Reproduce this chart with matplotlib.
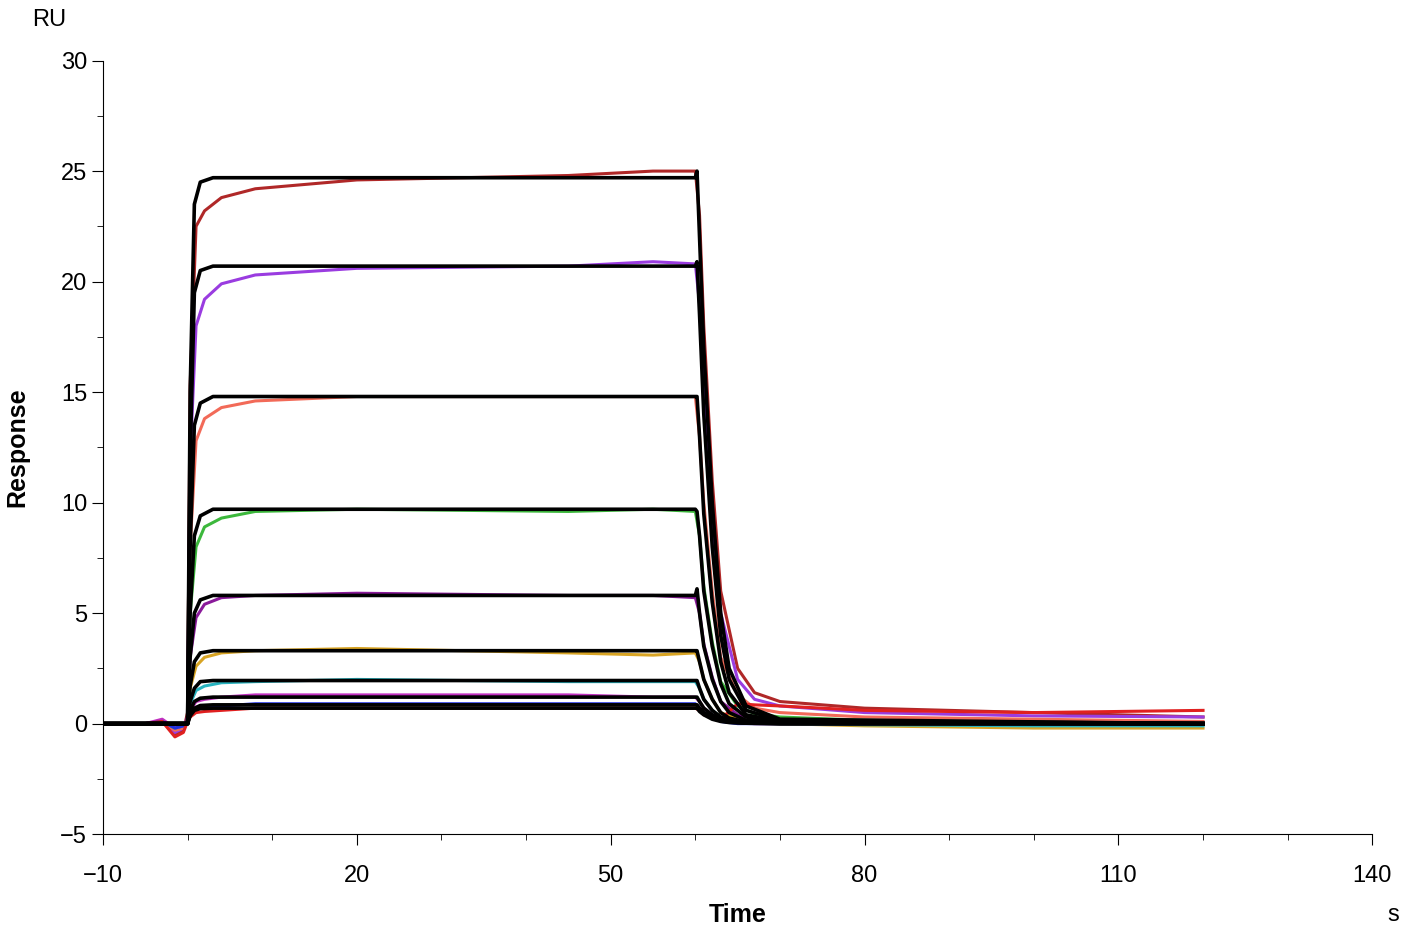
import matplotlib.pyplot as plt

plt.rcParams["font.family"] = ["Liberation Sans", "DejaVu Sans"]

# time points shared by the measured (coloured) curves, seconds
data_t = [-10, -5, -3, -1.5, -0.5, 0, 0.3, 1, 2, 4, 8, 20, 45, 55, 60, 60.5, 61, 62, 63, 65, 67, 70, 80, 100, 120]

data_colors = ["#b02828", "#9a3ce0", "#f26a58", "#3cb83c", "#8a1a9a",
               "#d8a424", "#28b4c0", "#c030c0", "#2030e0", "#e02020"]
data_vals = [
    [0, 0, 0.1, -0.5, -0.3, 0.5, 15.3, 22.5, 23.2, 23.8, 24.2, 24.6, 24.8, 25.0, 25.0, 23, 18, 11, 6, 2.5, 1.4, 1.0, 0.7, 0.5, 0.3],
    [0, 0, 0.1, -0.4, -0.2, 0.3, 12.0, 18.0, 19.2, 19.9, 20.3, 20.6, 20.7, 20.9, 20.8, 19, 15, 9, 5, 2.0, 1.1, 0.8, 0.5, 0.35, 0.3],
    [0, 0, 0.1, -0.3, -0.2, 0.2, 8.0, 12.8, 13.8, 14.3, 14.6, 14.8, 14.8, 14.8, 14.8, 13, 10, 6, 3, 1.3, 0.7, 0.5, 0.3, 0.2, 0.1],
    [0, 0, 0.1, -0.2, -0.1, 0.1, 5.0, 8.0, 8.9, 9.3, 9.6, 9.7, 9.6, 9.7, 9.6, 8.5, 6.2, 3.7, 1.9, 0.8, 0.45, 0.3, 0.15, 0.05, 0.0],
    [0, 0, 0.1, -0.2, -0.1, 0.1, 3.0, 4.8, 5.4, 5.7, 5.8, 5.9, 5.8, 5.8, 5.7, 5.0, 3.6, 2.1, 1.0, 0.4, 0.2, 0.15, 0.05, 0.0, 0.0],
    [0, 0, 0.1, -0.2, -0.1, 0.1, 1.6, 2.6, 3.0, 3.2, 3.3, 3.4, 3.2, 3.1, 3.2, 2.8, 2.0, 1.1, 0.5, 0.2, 0.05, 0.0, -0.1, -0.2, -0.2],
    [0, 0, 0.1, -0.2, -0.1, 0.1, 0.9, 1.5, 1.7, 1.85, 1.9, 2.0, 1.9, 1.9, 1.9, 1.6, 1.1, 0.6, 0.3, 0.1, 0.03, 0.0, -0.05, -0.1, -0.1],
    [0, 0, 0.2, -0.2, -0.1, 0.1, 0.6, 1.0, 1.1, 1.2, 1.3, 1.3, 1.3, 1.2, 1.2, 1.0, 0.7, 0.4, 0.2, 0.05, 0.0, 0.0, 0.0, 0.0, 0.0],
    [0, 0, 0.1, -0.2, -0.1, 0.1, 0.4, 0.7, 0.75, 0.8, 0.9, 0.9, 0.9, 0.9, 0.9, 0.7, 0.5, 0.3, 0.1, 0.0, 0.0, 0.0, 0.0, 0.0, 0.0],
    [0, 0, 0.1, -0.6, -0.4, 0.1, 0.3, 0.5, 0.55, 0.6, 0.7, 0.7, 0.7, 0.7, 0.7, 0.6, 0.4, 0.3, 0.2, 0.9, 0.85, 0.8, 0.6, 0.5, 0.6],
]

# time points shared by the black fitted curves
fit_t = [-10, 0, 0.3, 0.8, 1.5, 3, 60, 60.2, 60.5, 61, 62, 63, 64, 66, 70, 120]
fit_vals = [
    [0, 0, 15, 23.5, 24.5, 24.7, 24.7, 25.0, 22, 17, 10, 5, 2.5, 0.8, 0.2, 0],
    [0, 0, 12, 19.5, 20.5, 20.7, 20.7, 20.9, 18.5, 14, 8, 4, 2.0, 0.6, 0.15, 0],
    [0, 0, 8, 13.5, 14.5, 14.8, 14.8, 14.8, 13, 9.5, 5.5, 2.8, 1.4, 0.4, 0.1, 0],
    [0, 0, 5, 8.5, 9.4, 9.7, 9.7, 9.6, 8.5, 6, 3.5, 1.8, 0.9, 0.3, 0.05, 0],
    [0, 0, 3, 5.0, 5.6, 5.8, 5.8, 6.1, 5.0, 3.5, 2.0, 1.0, 0.5, 0.15, 0.03, 0],
    [0, 0, 1.7, 2.8, 3.2, 3.3, 3.3, 3.3, 2.8, 2.0, 1.1, 0.5, 0.25, 0.08, 0.02, 0],
    [0, 0, 1.0, 1.6, 1.9, 1.95, 1.95, 1.95, 1.6, 1.1, 0.6, 0.3, 0.15, 0.05, 0.01, 0],
    [0, 0, 0.6, 1.0, 1.15, 1.2, 1.2, 1.2, 1.0, 0.7, 0.4, 0.2, 0.1, 0.03, 0.01, 0],
    [0, 0, 0.4, 0.7, 0.82, 0.85, 0.85, 0.85, 0.7, 0.5, 0.3, 0.15, 0.07, 0.02, 0.0, 0],
    [0, 0, 0.35, 0.6, 0.68, 0.7, 0.7, 0.7, 0.55, 0.4, 0.2, 0.1, 0.05, 0.02, 0.0, 0],
]

x_ticks = [-10, 20, 50, 80, 110, 140]
y_ticks = [-5, 0, 5, 10, 15, 20, 25, 30]

fig = plt.figure(figsize=(14.01, 9.32), dpi=100)
ax = fig.add_axes([0.0735, 0.105, 0.906, 0.83])

for vals, c in zip(data_vals, data_colors):
    ax.plot(data_t, vals, color=c, lw=2.2)
for vals in fit_vals:
    ax.plot(fit_t, vals, color="black", lw=2.6)

ax.set_xlim(-10, 140)
ax.set_ylim(-5, 30)
ax.set_xticks(x_ticks)
ax.set_yticks(y_ticks)
ax.set_xticks(range(-10, 141, 10), minor=True)
ax.set_yticks([v + 2.5 for v in y_ticks[:-1]], minor=True)
for s in ["top", "right"]:
    ax.spines[s].set_visible(False)
ax.tick_params(labelsize=17, length=8, direction="out")
ax.tick_params(axis="x", pad=14)
ax.tick_params(which="minor", length=4)

ax.set_xlabel("Time", fontsize=18, fontweight="bold", labelpad=12)
ax.set_ylabel("Response", fontsize=18, fontweight="bold", labelpad=22)
fig.text(0.023, 0.972, "RU", fontsize=17)
fig.text(0.99, 0.012, "s", fontsize=17)

fig.savefig("out.png", dpi=100)
